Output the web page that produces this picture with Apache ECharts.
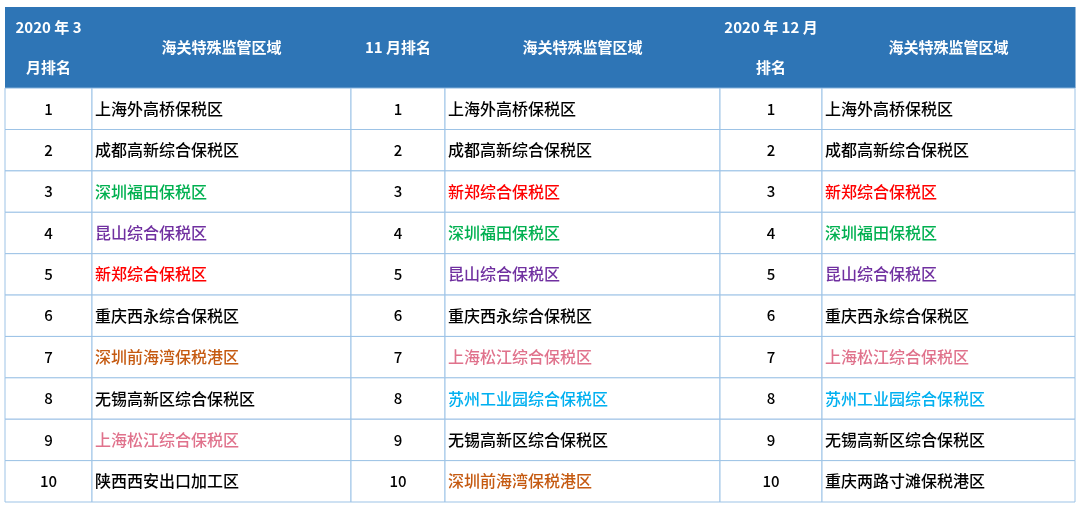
<!DOCTYPE html>
<html><head><meta charset="utf-8">
<script src="https://cdn.jsdelivr.net/npm/echarts@6/dist/echarts.min.js"></script>
<style>html,body{margin:0;padding:0;background:#fff}#c{width:1080px;height:508px}</style>
</head><body><div id="c"></div>
<script>
var headers = ['2020 年 3\n月排名', '海关特殊监管区域', '11 月排名', '海关特殊监管区域', '2020 年 12 月\n排名', '海关特殊监管区域'];
var ranks = ['1','2','3','4','5','6','7','8','9','10'];
var march = ['上海外高桥保税区','成都高新综合保税区','深圳福田保税区','昆山综合保税区','新郑综合保税区','重庆西永综合保税区','深圳前海湾保税港区','无锡高新区综合保税区','上海松江综合保税区','陕西西安出口加工区'];
var nov = ['上海外高桥保税区','成都高新综合保税区','新郑综合保税区','深圳福田保税区','昆山综合保税区','重庆西永综合保税区','上海松江综合保税区','苏州工业园综合保税区','无锡高新区综合保税区','深圳前海湾保税港区'];
var dec = ['上海外高桥保税区','成都高新综合保税区','新郑综合保税区','深圳福田保税区','昆山综合保税区','重庆西永综合保税区','上海松江综合保税区','苏州工业园综合保税区','无锡高新区综合保税区','重庆两路寸滩保税港区'];
var nameColors = {'深圳福田保税区':'#00B050','昆山综合保税区':'#7030A0','新郑综合保税区':'#FF0000','深圳前海湾保税港区':'#C55A11','上海松江综合保税区':'#E0728C','苏州工业园综合保税区':'#00B0F0'};
var colEdges = [0, 87, 346, 440, 715, 817, 1070]; // layout (pixel widths within grid)

var cells = [];
headers.forEach(function(h, c){ cells.push([c, -1, h, 'h']); });
for (var r = 0; r < 10; r++) {
  var cols = [ranks[r], march[r], ranks[r], nov[r], ranks[r], dec[r]];
  cols.forEach(function(v, c){ cells.push([c, r, v, c % 2 ? 'n' : 'r']); });
}
var HEAD = 1.96;
var chart = echarts.init(document.getElementById('c'));
chart.setOption({
  animation: false,
  grid: {left: 5, right: 5, top: 7, bottom: 6},
  xAxis: {type: 'value', min: 0, max: 1070, show: false},
  yAxis: {type: 'value', min: -HEAD, max: 10, inverse: true, show: false},
  series: [{
    type: 'custom',
    data: cells,
    renderItem: function(params, api){
      var c = api.value(0), r = api.value(1), t = cells[params.dataIndex][2], kind = cells[params.dataIndex][3];
      var x0 = api.coord([colEdges[c], 0])[0], x1 = api.coord([colEdges[c+1], 0])[0];
      var y0 = api.coord([0, r < 0 ? -HEAD : r])[1], y1 = api.coord([0, r < 0 ? 0 : r + 1])[1];
      var ch = [];
      if (kind === 'h') {
        ch.push({type:'rect', shape:{x:x0, y:y0, width:x1-x0+0.5, height:y1-y0}, style:{fill:'#2E75B6'}});
        ch.push({type:'text', style:{text:t, x:(x0+x1)/2, y:(y0+y1)/2, align:'center', verticalAlign:'middle', fill:'#fff', font:'bold 15px "Noto Sans CJK SC"', lineHeight:40}});
      } else {
        ch.push({type:'rect', shape:{x:x0, y:y0, width:x1-x0, height:y1-y0}, style:{fill:'#fff', stroke:'#9DC3E6', lineWidth:1}});
        if (kind === 'r') ch.push({type:'text', style:{text:t, x:(x0+x1)/2, y:(y0+y1)/2, align:'center', verticalAlign:'middle', fill:'#000', font:'500 15px "Noto Sans CJK SC"'}});
        else ch.push({type:'text', style:{text:t, x:x0+3, y:(y0+y1)/2, align:'left', verticalAlign:'middle', fill:nameColors[t] || '#000', font:'500 16px "Noto Sans CJK SC"'}});
      }
      return {type:'group', children:ch};
    }
  }]
});
</script></body></html>
